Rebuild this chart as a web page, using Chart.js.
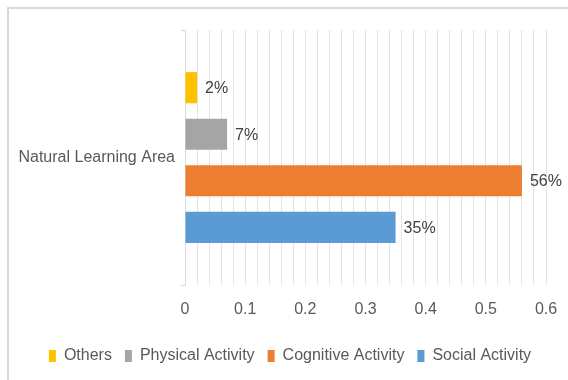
<!DOCTYPE html>
<html>
<head>
<meta charset="utf-8">
<script src="https://cdn.jsdelivr.net/npm/chart.js@4/dist/chart.umd.min.js"></script>
<style>
  html, body { margin: 0; padding: 0; background: #fff; }
  #wrap { width: 568px; height: 380px; }
</style>
</head>
<body>
<div id="wrap"><canvas id="chart" width="568" height="380"></canvas></div>
<script>
const categories = ['Natural Learning Area'];
const seriesNames = ['Others', 'Physical Activity', 'Cognitive Activity', 'Social Activity'];
const others = [0.02];
const physical = [0.07];
const cognitive = [0.56];
const social = [0.35];
const xTicks = [0, 0.1, 0.2, 0.3, 0.4, 0.5, 0.6];

const C_YELLOW = '#ffc000';
const C_GRAY = '#a5a5a5';
const C_ORANGE = '#ed7d31';
const C_BLUE = '#5b9bd5';
const TEXT = '#595959';
const FONT = "'Liberation Sans', Arial, sans-serif";

// light frame around the whole chart
const frame = {
  id: 'frame',
  beforeDraw(chart) {
    const ctx = chart.ctx;
    ctx.save();
    ctx.strokeStyle = '#d9d9d9';
    ctx.lineWidth = 2;
    ctx.strokeRect(8, 8, 700, 700);
    ctx.restore();
  },
  // legend sits a bit right of centre in the original
  afterLayout(chart) {
    if (chart.legend) {
      chart.legend.left += 12;
      chart.legend.right += 12;
    }
  }
};

// percentage labels at the end of each bar
const valueLabels = {
  id: 'valueLabels',
  afterDatasetsDraw(chart) {
    const ctx = chart.ctx;
    ctx.save();
    ctx.font = '16px ' + FONT;
    ctx.fillStyle = '#404040';
    ctx.textBaseline = 'middle';
    ctx.textAlign = 'left';
    chart.data.datasets.forEach((ds, i) => {
      chart.getDatasetMeta(i).data.forEach((bar, j) => {
        ctx.fillText(Math.round(ds.data[j] * 100) + '%', bar.x + 8, bar.y + 1);
      });
    });
    ctx.restore();
  }
};

const seriesData = [others, physical, cognitive, social];
const seriesColors = [C_YELLOW, C_GRAY, C_ORANGE, C_BLUE];

new Chart(document.getElementById('chart'), {
  type: 'bar',
  data: {
    labels: categories,
    datasets: seriesNames.map((n, i) => ({
      label: n,
      data: seriesData[i],
      backgroundColor: seriesColors[i],
      borderWidth: 0,
      categoryPercentage: 0.73,
      barPercentage: 0.67
    }))
  },
  options: {
    indexAxis: 'y',
    responsive: false,
    animation: false,
    layout: { padding: { left: 10, right: 22, top: 30, bottom: 6 } },
    plugins: {
      legend: {
        position: 'bottom',
        labels: {
          boxWidth: 7,
          boxHeight: 12,
          padding: 13,
          color: TEXT,
          font: { size: 16, family: FONT }
        }
      },
      tooltip: { enabled: false }
    },
    scales: {
      x: {
        min: 0,
        max: 0.6,
        afterBuildTicks(scale) {
          const t = [];
          for (let k = 0; k <= 30; k++) t.push({ value: k / 50 });
          scale.ticks = t;
        },
        afterFit(scale) {
          scale.height = 50;
          scale.paddingLeft = 0;
          scale.paddingRight = 0;
        },
        ticks: {
          autoSkip: false,
          maxRotation: 0,
          color: TEXT,
          padding: 15,
          font: { size: 16, family: FONT },
          callback(v) {
            const r = Math.round(v * 100) / 100;
            return xTicks.some(x => Math.abs(x - r) < 1e-6) ? String(r) : '';
          }
        },
        grid: { color: '#e3e3e3', drawTicks: false },
        border: { display: false }
      },
      y: {
        afterFit(scale) { scale.width = 175; },
        ticks: {
          color: TEXT,
          padding: 6,
          font: { size: 16, family: FONT }
        },
        grid: { drawOnChartArea: false, color: '#d9d9d9', tickLength: 4, offset: true },
        border: { color: '#d9d9d9' }
      }
    }
  },
  plugins: [frame, valueLabels]
});
</script>
</body>
</html>
